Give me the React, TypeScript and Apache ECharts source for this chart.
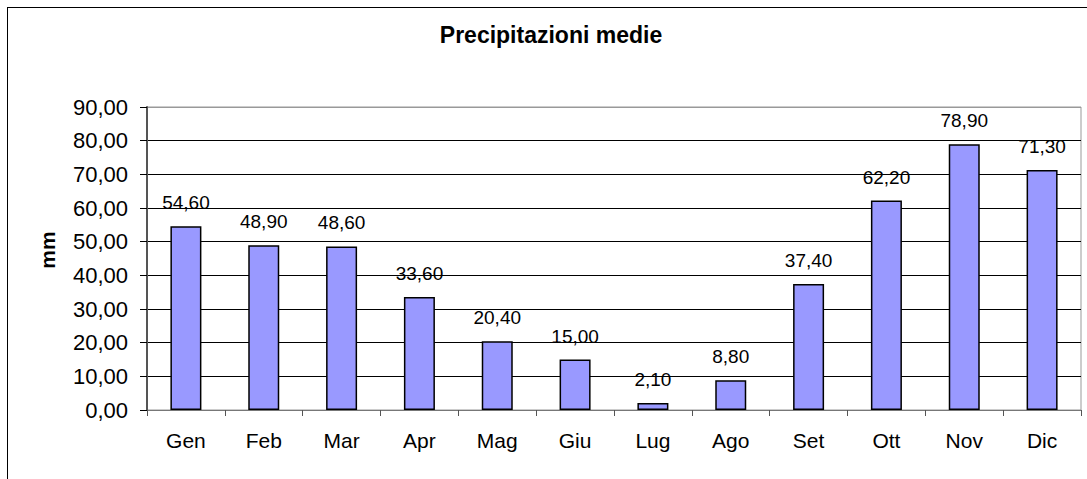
import React, { useEffect, useRef } from "react";
import * as echarts from "echarts";

const categories = ["Gen", "Feb", "Mar", "Apr", "Mag", "Giu", "Lug", "Ago", "Set", "Ott", "Nov", "Dic"];
const rainfall = [54.6, 48.9, 48.6, 33.6, 20.4, 15.0, 2.1, 8.8, 37.4, 62.2, 78.9, 71.3];
const chartTitle = "Precipitazioni medie";
const yName = "mm";

const FONT = "'Liberation Sans', Arial, sans-serif";
const fmt = (v: number) => v.toFixed(2).replace(".", ",");

export default function App() {
  const ref = useRef<HTMLDivElement>(null);
  useEffect(() => {
    if (!ref.current) return;
    const chart = echarts.init(ref.current, undefined, { renderer: "svg" });
    const splitColors = ["#000", "#000", "#000", "#000", "#000", "#000", "#000", "#000", "#000", "#999"];
    chart.setOption({
      animation: false,
      backgroundColor: "#fff",
      textStyle: { fontFamily: FONT },
      graphic: [
        {
          type: "text",
          x: 551,
          y: 35,
          z: 100,
          style: {
            text: chartTitle,
            fontFamily: FONT,
            fontSize: 23,
            fontWeight: "bold",
            fill: "#000",
            textAlign: "center",
            textVerticalAlign: "middle",
          },
        },
        {
          type: "text",
          x: 47,
          y: 250,
          rotation: Math.PI / 2,
          z: 100,
          style: {
            text: yName,
            fontFamily: FONT,
            fontSize: 21,
            fontWeight: "bold",
            fill: "#000",
            textAlign: "center",
            textVerticalAlign: "middle",
          },
        },
      ],
      grid: {
        left: 147,
        top: 107,
        right: 6,
        bottom: 69,
        show: true,
        borderColor: "#999",
        borderWidth: 1,
        backgroundColor: "transparent",
      },
      xAxis: {
        type: "category",
        data: categories,
        boundaryGap: true,
        axisLine: { show: true, lineStyle: { color: "#777", width: 1 } },
        axisTick: { show: true, length: 6, lineStyle: { color: "#555" } },
        axisLabel: { color: "#000", fontSize: 21, fontFamily: FONT, margin: 20 },
        splitLine: { show: false },
      },
      yAxis: {
        type: "value",
        min: 0,
        max: 90,
        interval: 10,
        axisLine: { show: true, lineStyle: { color: "#555", width: 2 } },
        axisTick: { show: true, length: 7, lineStyle: { color: "#000" } },
        axisLabel: { color: "#000", fontSize: 22, fontFamily: FONT, margin: 19, formatter: (v: number) => fmt(v) },
        splitLine: { show: true, lineStyle: { color: splitColors, width: 1 } },
      },
      series: [
        {
          type: "bar",
          data: rainfall,
          barWidth: 31,
          itemStyle: { color: "#9999FF", borderColor: "#000", borderWidth: 1.5 },
          label: {
            show: true,
            position: "top",
            distance: 14,
            color: "#000",
            fontSize: 19,
            fontFamily: FONT,
            formatter: (p: any) => fmt(p.value),
          },
        },
      ],
    });
    return () => chart.dispose();
  }, []);
  return (
    <div style={{ position: "absolute", left: 0, top: 0, width: 1087, height: 479, overflow: "hidden" }}>
      <div ref={ref} style={{ position: "absolute", left: 0, top: 0, width: 1087, height: 479 }} />
      <div
        style={{
          position: "absolute",
          left: 7,
          top: 7,
          width: 1200,
          height: 600,
          border: "1px solid #000",
          pointerEvents: "none",
        }}
      />
    </div>
  );
}
